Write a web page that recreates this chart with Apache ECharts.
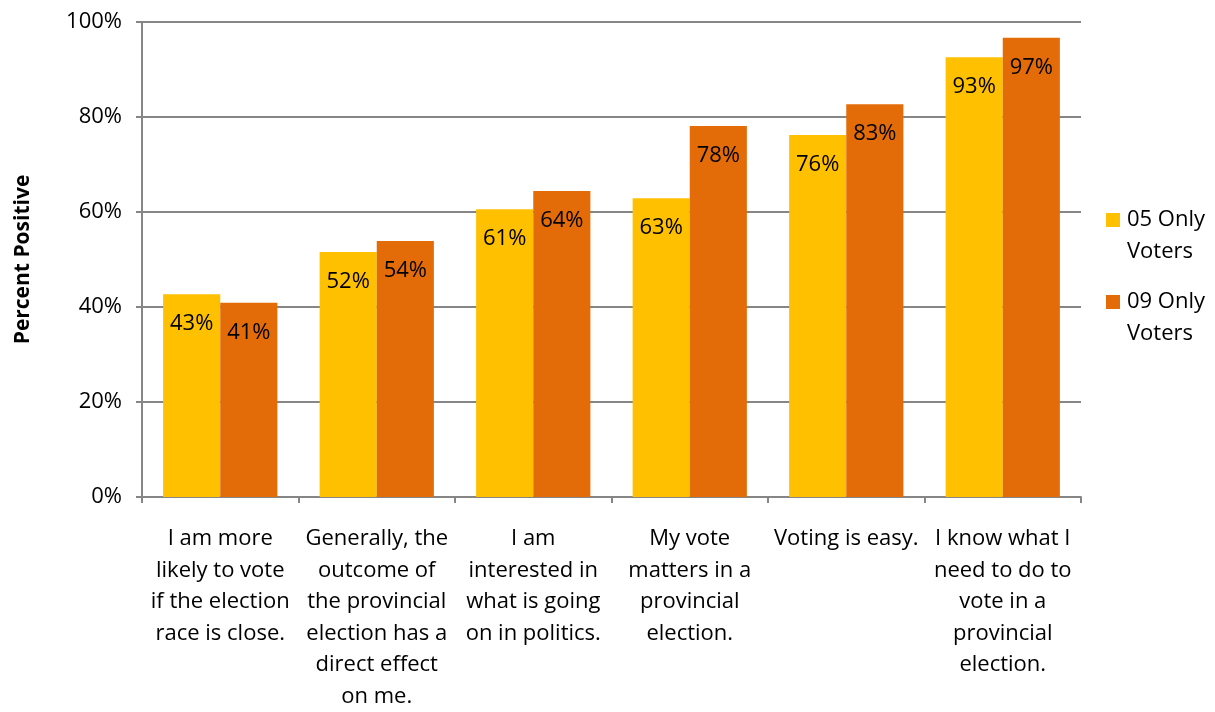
<!DOCTYPE html>
<html>
<head>
<meta charset="utf-8">
<script src="https://cdn.jsdelivr.net/npm/echarts@6/dist/echarts.min.js"></script>
<style>
  html, body { margin: 0; padding: 0; background: #fff; }
  #chart { width: 1215px; height: 712px; }
</style>
</head>
<body>
<div id="chart"></div>
<script>
// Survey statements (wrapped as shown under the axis)
const categories = [
  'I am more\nlikely to vote\nif the election\nrace is close.',
  'Generally, the\noutcome of\nthe provincial\nelection has a\ndirect effect\non me.',
  'I am\ninterested in\nwhat is going\non in politics.',
  'My vote\nmatters in a\nprovincial\nelection.',
  'Voting is easy.',
  'I know what I\nneed to do to\nvote in a\nprovincial\nelection.'
];
const seriesNames = ['05 Only\nVoters', '09 Only\nVoters'];
// Percent positive for each voter group
const voters05 = [42.7, 51.6, 60.6, 62.9, 76.2, 92.6];
const voters09 = [40.9, 53.9, 64.4, 78.1, 82.7, 96.7];
const yTicks = [0, 20, 40, 60, 80, 100];

const FONT = '"Open Sans", "Noto Sans", sans-serif';
const GRAY = '#868686';
const SIZE = 22;

// Legend swatch sits beside the first text line: a square at the top of a taller, empty box
const SWATCH = 'path://M0,0L14,0L14,14L0,14Z M0,46L0.01,46';

const chart = echarts.init(document.getElementById('chart'));

const barLabel = {
  show: true,
  position: 'insideTop',
  distance: 19,
  color: '#000',
  fontFamily: FONT,
  fontSize: SIZE,
  formatter: p => Math.round(p.value) + '%'
};

chart.setOption({
  animation: false,
  textStyle: { fontFamily: FONT },
  grid: { left: 142, right: 134, top: 22, bottom: 215 },
  legend: {
    orient: 'vertical',
    left: 1106,
    top: 204,
    padding: 0,
    itemWidth: 14,
    itemHeight: 46,
    itemGap: 18,
    icon: SWATCH,
    textStyle: { fontFamily: FONT, fontSize: SIZE, color: '#000', lineHeight: 32, padding: [0, 0, 0, 2] },
    data: seriesNames
  },
  xAxis: {
    type: 'category',
    data: categories,
    axisLine: { lineStyle: { color: GRAY, width: 2 } },
    axisTick: { show: true, length: 6, lineStyle: { color: GRAY, width: 2 } },
    axisLabel: {
      interval: 0,
      margin: 26,
      color: '#000',
      fontFamily: FONT,
      fontSize: SIZE,
      lineHeight: 31.5,
      align: 'center'
    }
  },
  yAxis: {
    type: 'value',
    min: 0,
    max: 100,
    interval: 20,
    name: 'Percent Positive',
    nameLocation: 'middle',
    nameGap: 108,
    nameRotate: 90,
    nameTextStyle: { fontFamily: FONT, fontSize: 21, fontWeight: 'bold', color: '#000' },
    axisLine: { show: true, lineStyle: { color: GRAY, width: 2 } },
    axisTick: { show: true, length: 6, lineStyle: { color: GRAY, width: 2 } },
    splitLine: { show: true, lineStyle: { color: GRAY, width: 2 } },
    axisLabel: {
      color: '#000',
      fontFamily: FONT,
      fontSize: SIZE,
      margin: 20,
      formatter: v => yTicks.includes(v) ? v + '%' : ''
    }
  },
  series: [
    {
      name: seriesNames[0],
      type: 'bar',
      data: voters05,
      barGap: '0%',
      barCategoryGap: '27%',
      itemStyle: { color: '#FFC000' },
      label: barLabel
    },
    {
      name: seriesNames[1],
      type: 'bar',
      data: voters09,
      barGap: '0%',
      barCategoryGap: '27%',
      itemStyle: { color: '#E36C09' },
      label: barLabel
    }
  ]
});
</script>
</body>
</html>
